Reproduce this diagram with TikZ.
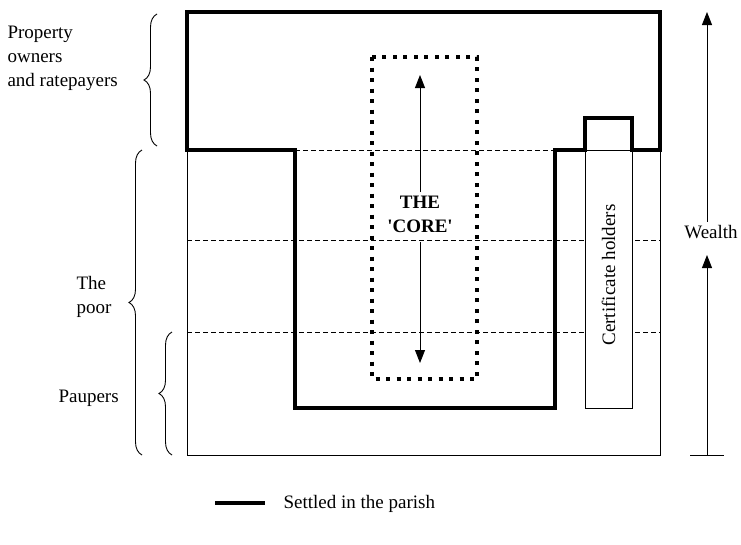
\documentclass[tikz,border=0pt]{standalone}
\usepackage{fontspec}
\setmainfont{Liberation Serif}
\newfontfamily\plainquotes{Liberation Serif}[Ligatures=TeXOff]
\usetikzlibrary{decorations.pathreplacing,arrows.meta}
\newcommand{\Owners}{Property\\owners\\and ratepayers}
\newcommand{\Poor}{The\\poor}
\newcommand{\Core}{\textbf{THE}\\{\plainquotes\bfseries 'CORE'}}

\begin{document}
\begin{tikzpicture}[x=1pt,y=-1pt,
    every node/.style={font=\fontsize{19}{24}\selectfont},
    settled/.style={line width=4.5pt},
    thinline/.style={line width=0.8pt},
    band/.style={line width=0.8pt, dash pattern=on 5pt off 3pt},
    corebox/.style={line width=4pt, dash pattern=on 4pt off 6.5pt},
    brc/.style={decorate, decoration={brace, amplitude=13pt}, line width=0.9pt},
    up/.style={-{Triangle[length=13pt,width=10pt]}, line width=0.9pt}]
    \useasboundingbox (0,0) rectangle (741,544);
    % the poor and the bands
    \draw[thinline] (187,150) -- (187,455) -- (660,455) -- (660,150);
    \draw[band] (295,150) -- (555,150);
    \draw[band] (187,240) -- (660,240);
    \draw[band] (187,332) -- (660,332);
    % certificate holders
    \draw[thinline, fill=white] (585,150) rectangle (632,408);
    \node[rotate=90] (cert) at (608.5,275) {Certificate holders};
    % settled in the parish
    \draw[settled] (187,12) -- (660,12) -- (660,150) -- (632,150) -- (632,118)
        -- (585,118) -- (585,150) -- (555,150) -- (555,408) -- (295,408)
        -- (295,150) -- (187,150) -- cycle;
    % the core
    \draw[corebox] (372,57) rectangle (477,379);
    \node[align=center] (core) at (420,214) {\Core};
    \coordinate (coretop) at (420,75);
    \coordinate (corebot) at (420,363);
    \draw[up] (core.north) -- (coretop);
    \draw[up, shorten <=6pt] (core.south) -- (corebot);
    % groups on the left
    \node[align=left, anchor=west] (owners) at (4,58) {\Owners};
    \node[align=left, anchor=west] (poor) at (73,297) {\Poor};
    \node[anchor=west] (paupers) at (55,398) {Paupers};
    \draw[brc] (157,146) -- (157,14);
    \draw[brc] (142,455) -- (142,150);
    \draw[brc] (172,455) -- (172,332);
    % wealth
    \node (wealth) at (711,232) {Wealth};
    \coordinate (wbase) at (707,455);
    \coordinate (wmid) at (707,255);
    \coordinate (wtop) at (707,12);
    \draw[thinline] (690,455) -- (724,455);
    \draw[up] (wbase) -- (wmid);
    \draw[up] (wealth.north -| wbase) -- (wtop);
    % legend
    \coordinate (keyleft) at (215,503);
    \coordinate (keyright) at (265,503);
    \draw[settled] (keyleft) -- (keyright);
    \node[anchor=west] (key) at (280,504) {Settled in the parish};
\end{tikzpicture}
\end{document}
